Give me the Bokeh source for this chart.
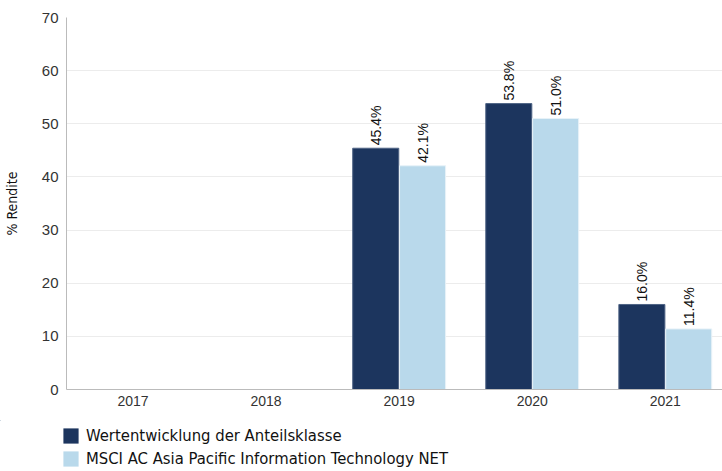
import numpy as np
from bokeh.plotting import figure
from bokeh.layouts import column
from bokeh.models import Range1d, FixedTicker, Legend, LegendItem, ColumnDataSource
from bokeh.embed import file_html
from bokeh.resources import INLINE

years = ["2017", "2018", "2019", "2020", "2021"]
fund = [np.nan, np.nan, 45.4, 53.8, 16.0]
bench = [np.nan, np.nan, 42.1, 51.0, 11.4]
series_names = ["Wertentwicklung der Anteilsklasse",
                "MSCI AC Asia Pacific Information Technology NET"]
y_ticks = [0, 10, 20, 30, 40, 50, 60, 70]

DARK = "#1c355e"
LIGHT = "#b9d9eb"
NARROW = "DejaVu Sans Condensed"

x_idx = list(range(len(years)))
p = figure(width=722, height=420, output_backend="svg", toolbar_location=None,
           x_range=Range1d(-0.5, 4.43), y_range=Range1d(0, 70),
           min_border_left=66, min_border_right=0, min_border_top=17,
           min_border_bottom=31)
p.outline_line_color = None
p.background_fill_color = "white"
p.border_fill_color = "white"

def lbl(vals):
    return ["" if np.isnan(v) else f"{v:.1f}%" for v in vals]

off = 0.176
w = 0.346
src1 = ColumnDataSource(dict(x=[i - off for i in x_idx], top=fund, lab=lbl(fund)))
src2 = ColumnDataSource(dict(x=[i + off for i in x_idx], top=bench, lab=lbl(bench)))
p.vbar(x="x", top="top", bottom=0, width=w, source=src1,
       fill_color=DARK, line_color="#4f6485", line_width=1)
p.vbar(x="x", top="top", bottom=0, width=w, source=src2,
       fill_color=LIGHT, line_color="#e8f2f8", line_width=1)
for s in (src1, src2):
    p.text(x="x", y="top", text="lab", source=s, angle=np.pi / 2,
           text_align="left", text_baseline="middle", y_offset=-3,
           text_font_size="14px", text_color="#111111",
           text_font={"value": "Liberation Sans"})

# axes
p.xaxis.ticker = FixedTicker(ticks=x_idx)
p.xaxis.major_label_overrides = {i: y for i, y in enumerate(years)}
p.yaxis.ticker = FixedTicker(ticks=y_ticks)
for ax in (p.xaxis[0], p.yaxis[0]):
    ax.axis_line_color = "#bbbbbb"
    ax.major_tick_line_color = None
    ax.minor_tick_line_color = None
    ax.major_tick_out = 0
    ax.major_tick_in = 0
    ax.minor_tick_out = 0
    ax.minor_tick_in = 0
    ax.major_label_text_font = "Liberation Sans"
    ax.major_label_text_color = "#333333"
p.xaxis.major_label_text_font_size = "14px"
p.xaxis.major_label_standoff = 6
p.yaxis.major_label_text_font_size = "15px"
p.yaxis.major_label_standoff = 8
p.yaxis.axis_label = "% Rendite"
p.yaxis.axis_label_text_font = NARROW
p.yaxis.axis_label_text_font_style = "normal"
p.yaxis.axis_label_text_font_size = "14px"
p.yaxis.axis_label_text_color = "#111111"
p.yaxis.axis_label_standoff = 19
p.xgrid.grid_line_color = None
p.ygrid.grid_line_color = "#ececec"
p.ygrid.ticker = FixedTicker(ticks=y_ticks)

# legend strip below the chart (same series, plotted out of its visible range)
lg = figure(width=722, height=51, output_backend="svg", toolbar_location=None,
            x_range=Range1d(100, 101), y_range=Range1d(-200, -199),
            min_border=0, min_border_left=0, min_border_right=0,
            min_border_top=0, min_border_bottom=0)
if "frame_align" in lg.properties():
    lg.frame_align = False
    p.frame_align = False
lg.outline_line_color = None
lg.axis.visible = False
lg.grid.visible = False
lr1 = lg.vbar(x="x", top="top", bottom=0, width=w, source=src1,
              fill_color=DARK, line_color=None)
lr2 = lg.vbar(x="x", top="top", bottom=0, width=w, source=src2,
              fill_color=LIGHT, line_color=None)
legend = Legend(items=[LegendItem(label=series_names[0], renderers=[lr1]),
                       LegendItem(label=series_names[1], renderers=[lr2])],
                location=(61, 3), orientation="vertical",
                margin=0, padding=0, spacing=4,
                glyph_width=19, glyph_height=19, label_standoff=6,
                label_text_font=NARROW, label_text_font_size="16.5px",
                label_text_color="#111111", label_height=19,
                border_line_color=None, background_fill_alpha=0)
lg.add_layout(legend, "center")

layout = column(p, lg, spacing=0)
open("out.html", "w").write(file_html(layout, INLINE))
